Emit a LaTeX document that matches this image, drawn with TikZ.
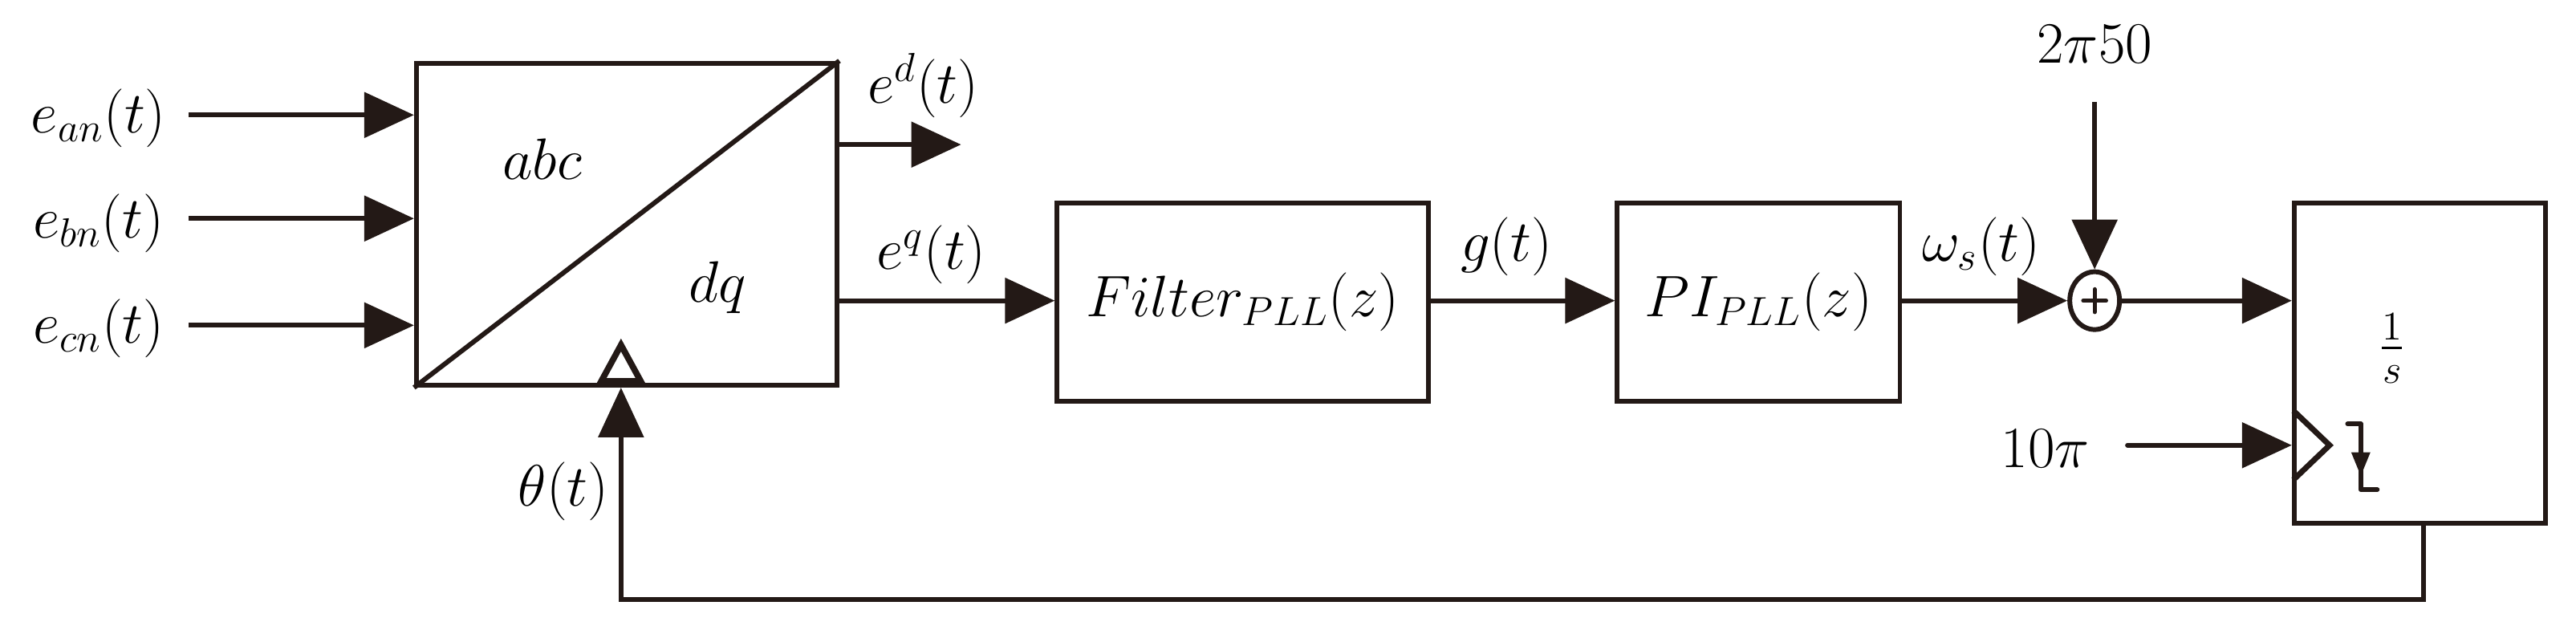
\documentclass[tikz,border=0pt]{standalone}
\usepackage{amsmath}
\usepackage{tikz}
\usetikzlibrary{calc,arrows.meta,positioning,shapes.geometric}

\begin{document}
\begin{tikzpicture}[x=0.02047cm, y=-0.02047cm, line width=1.7pt, draw={rgb,255:red,35;green,25;blue,22},
    block/.style={draw, rectangle, line width=1.7pt, inner sep=0pt, anchor=north west},
    lbl/.style={font=\fontsize{21}{25}\selectfont, inner sep=1pt},
    >={Triangle[length=0.62cm, width=0.56cm]}]
            \useasboundingbox (0,0) rectangle (1568,383);
            \node[block, minimum width=256*0.02047cm, minimum height=196*0.02047cm] (abc) at (252,37) {};
            \draw (abc.south west) -- (abc.north east);
            \node[lbl] at (330,97) {$abc$};
            \node[lbl] at (437,175) {$dq$};
            \node[block, minimum width=226*0.02047cm, minimum height=121*0.02047cm] (flt) at (642,122) {};
            \node[lbl] at (flt.center) {$Filter_{PLL}(z)$};
            \node[block, minimum width=172*0.02047cm, minimum height=121*0.02047cm] (pi) at (983,122) {};
            \node[lbl] at (pi.center) {$PI_{PLL}(z)$};
            \node[block, minimum width=153*0.02047cm, minimum height=195*0.02047cm] (int) at (1395,122) {};
            \node[lbl] at (1456,212) {$\frac{1}{s}$};
            \node[draw, ellipse, line width=1.7pt, minimum width=0.62cm, minimum height=0.72cm, inner sep=0pt] (sum) at (1275,183) {};
            \draw[line cap=round, line width=1.4pt] (1275,176) -- (1275,190) (1268,183) -- (1282,183);
            % inputs
            \node[lbl] (ean) at (60,72) {$e_{an}(t)$};
            \node[lbl] (ebn) at (60,136) {$e_{bn}(t)$};
            \node[lbl] (ecn) at (60,200) {$e_{cn}(t)$};
            \draw[->] (115,70) -- (abc.west |- 0,70);
            \draw[->] (115,133) -- (abc.west |- 0,133);
            \draw[->] (115,198) -- (abc.west |- 0,198);
            % outputs
            \coordinate (dout) at (585,88);
            \draw[->] (abc.east |- 0,88) -- (dout);
            \node[lbl] at (562,52) {$e^{d}(t)$};
            \draw[->] (abc.east |- 0,183) -- (flt.west |- 0,183);
            \node[lbl] at (567,155) {$e^{q}(t)$};
            \draw[->] (flt.east |- 0,183) -- (pi.west |- 0,183);
            \node[lbl] at (917,150) {$g(t)$};
            \draw[->] (pi.east |- 0,183) -- (sum.west);
            \node[lbl] at (1206,150) {$\omega_s(t)$};
            \draw[->] (sum.east) -- (int.west |- 0,183);
            \node[lbl] (ref) at (1275,27) {$2\pi50$};
            \draw[->] (1275,62) -- (sum.north);
            \node[lbl] (init) at (1245,273) {$10\pi$};
            \draw[->, line cap=round] (1295,271) -- (int.west |- 0,271);
            % reset
            \draw[line width=2pt, line join=miter] (1396,250) -- (1418,271) -- (1396,292);
            \draw[line cap=round, line join=round] (1429,258) -- (1437,258) -- (1437,298) -- (1447,298);
            \draw[-{Triangle[length=0.3cm, width=0.22cm]}] (1437,266) -- (1437,290);
            % feedback
            \draw[->] (int.south -| 1475,0) -- (1475,365) -- (378,365) -- (abc.south -| 378,0);
            \draw[line width=2.2pt, fill=white, line join=miter] (366,232) -- (378,210) -- (390,232) -- cycle;
            \node[lbl] at (343,299) {$\theta(t)$};
        \end{tikzpicture}
\end{document}
